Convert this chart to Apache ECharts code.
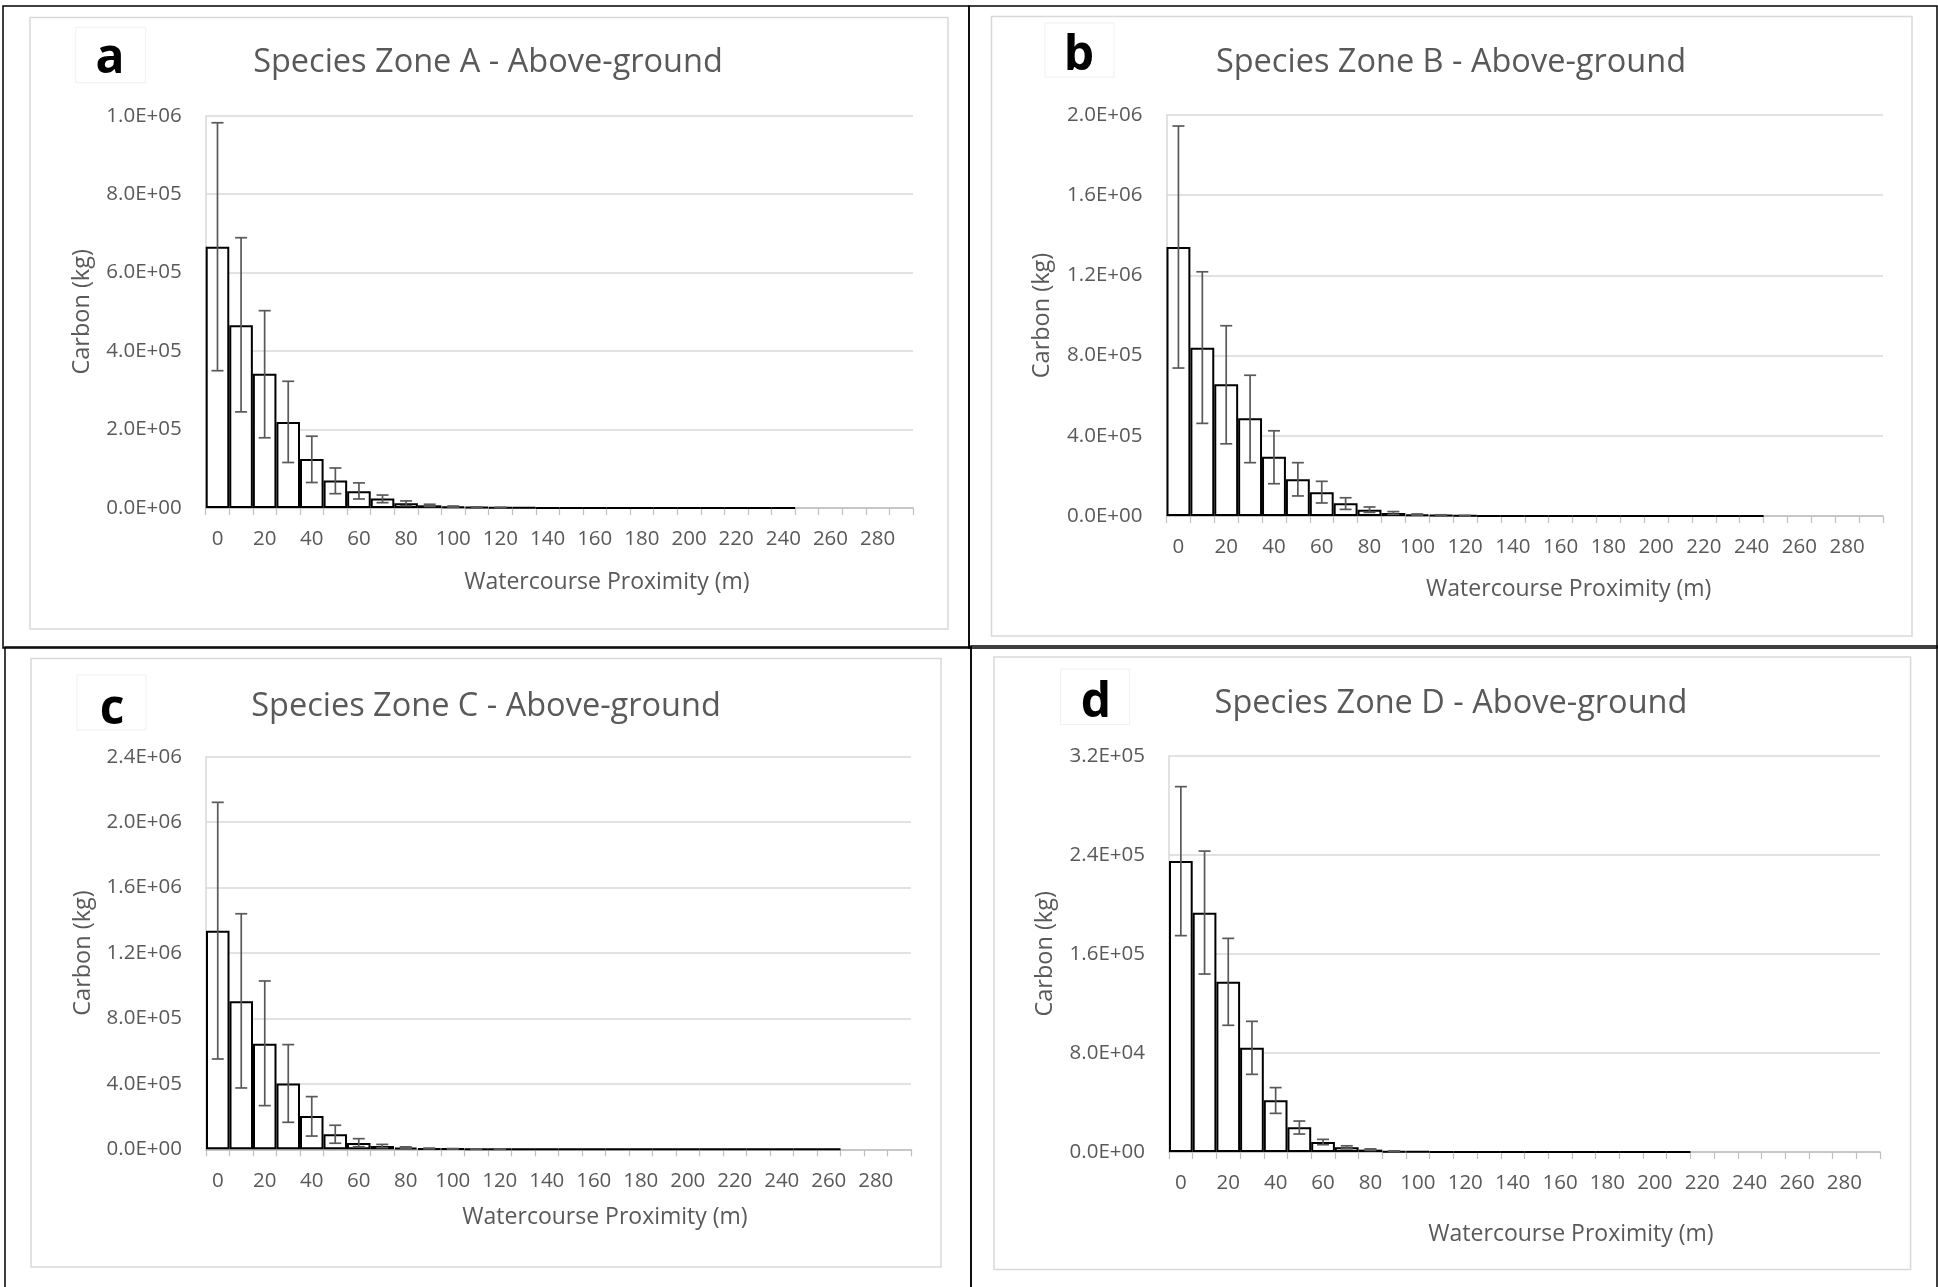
<!DOCTYPE html>
<html>
<head>
<meta charset="utf-8">
<script src="https://cdn.jsdelivr.net/npm/echarts@6/dist/echarts.min.js"></script>
<style>
html,body{margin:0;padding:0;background:#ffffff;}
#chart{width:1938px;height:1287px;}
</style>
</head>
<body>
<div id="chart"></div>
<script>
// ---------------- DATA ----------------
const categories = ['0','10','20','30','40','50','60','70','80','90','100','110','120','130','140','150','160','170','180','190','200','210','220','230','240','250','260','270','280','290'];

const panelLetters = ['a', 'b', 'c', 'd'];
const panelTitles = ['Species Zone A - Above-ground', 'Species Zone B - Above-ground', 'Species Zone C - Above-ground', 'Species Zone D - Above-ground'];
const xAxisTitle = 'Watercourse Proximity (m)';
const yAxisTitle = 'Carbon (kg)';

const yMax = [1.0e6, 2.0e6, 2.4e6, 3.2e5];
const yInterval = [2.0e5, 4.0e5, 4.0e5, 8.0e4];

const zoneA = [666000, 466000, 342000, 219000, 125000, 70000, 43000, 24000, 12000, 6800, 3500, 2000, 1200, 700, 400, 250, 150, 100, 60, 40, 30, 20, 10, 10, 5, null, null, null, null, null];
const zoneAUpper = [982000, 689000, 503000, 323000, 183000, 102000, 64000, 33000, 18000, 9500, 5000, 3000, 1800];
const zoneALower = [350000, 245000, 179000, 116000, 65000, 36500, 23000, 13600, 6000, 4000, 2000, 1000, 600];

const zoneB = [1342000, 839000, 657000, 487000, 296000, 183000, 118000, 63000, 31600, 15000, 7000, 4000, 2000, 1200, 700, 400, 250, 150, 100, 60, 40, 30, 20, 10, 5, null, null, null, null, null];
const zoneBUpper = [1945000, 1218000, 949000, 702000, 425000, 266000, 173000, 91000, 45000, 22000, 10000, 6000, 3000];
const zoneBLower = [738000, 462000, 360000, 266000, 161000, 100000, 65000, 33000, 18000, 8000, 4000, 2000, 1000];

const zoneC = [1336000, 905000, 646000, 403000, 204000, 92000, 38500, 20000, 10000, 5000, 3000, 1800, 1000, 600, 400, 250, 150, 100, 60, 40, 30, 20, 15, 10, 8, 5, 3, null, null, null];
const zoneCUpper = [2121000, 1440000, 1029000, 640000, 322000, 147000, 65000, 30000, 15000, 7500, 4500, 2700, 1500];
const zoneCLower = [552000, 375000, 267000, 165000, 81000, 37000, 16000, 10000, 5000, 2500, 1500, 900, 500];

const zoneD = [235000, 193200, 137500, 84200, 41700, 19900, 8100, 3800, 1900, 600, 300, 150, 80, 50, 30, 20, 10, 8, 5, 3, 2, 1, null, null, null, null, null, null, null, null];
const zoneDUpper = [295000, 243000, 172500, 105500, 52000, 25000, 10200, 5000, 2500, 900];
const zoneDLower = [174700, 143700, 102300, 62700, 31200, 14500, 5900, 2600, 1300, 300];

// ---------------- LAYOUT (positions & styles) ----------------
const FONT = '"Open Sans", "Noto Sans", sans-serif';
const GREY_TEXT = '#595959';
const layout = [
  { grid: {left: 205.7, top: 115.7, width: 707.3, height: 392.3},
    title: [488, 63], letter: [110, 59], letterBox: [75.7, 27.3, 70, 55.4],
    xName: {gap: 74, pad: 95}, yName: {gap: 123.7},
    outer: [3, 6, 966, 642], inner: [30, 17.5, 918, 611.5] },
  { grid: {left: 1166.5, top: 115, width: 716.5, height: 401},
    title: [1451, 62.5], letter: [1079, 56], letterBox: [1045, 23, 69, 54],
    xName: {gap: 73.5, pad: 88}, yName: {gap: 124.5},
    outer: [969, 6, 968, 642], inner: [991.5, 16.6, 920.5, 619.4] },
  { grid: {left: 206, top: 756.7, width: 705, height: 392.6},
    title: [486, 706.5], letter: [112, 710.5], letterBox: [77, 675, 69, 55],
    xName: {gap: 68, pad: 93}, yName: {gap: 123},
    outer: [5, 647, 966, 642], inner: [31, 658.5, 910, 608.5] },
  { grid: {left: 1169, top: 755.7, width: 711, height: 396.3},
    title: [1451, 703.5], letter: [1096, 703.5], letterBox: [1060.6, 669, 69, 55.5],
    xName: {gap: 82, pad: 93}, yName: {gap: 124},
    outer: [971, 646, 966, 642], inner: [994, 657, 916.6, 612.6] }
];

const means = [zoneA, zoneB, zoneC, zoneD];
const uppers = [zoneAUpper, zoneBUpper, zoneCUpper, zoneDUpper];
const lowers = [zoneALower, zoneBLower, zoneCLower, zoneDLower];

function sci(v) {
  const s = Number(v).toExponential(1).toUpperCase();
  return s.replace(/E([+-])(\d)$/, 'E$10$2');
}

function renderErr(params, api) {
  const idx = api.value(0);
  const lo = api.coord([idx, api.value(1)]);
  const hi = api.coord([idx, api.value(2)]);
  const x = lo[0];
  const hw = 6;
  const st = () => ({ stroke: '#595959', lineWidth: 1.7 });
  return {
    type: 'group',
    children: [
      { type: 'line', shape: { x1: x, y1: lo[1], x2: x, y2: hi[1] }, style: st() },
      { type: 'line', shape: { x1: x - hw, y1: hi[1], x2: x + hw, y2: hi[1] }, style: st() },
      { type: 'line', shape: { x1: x - hw, y1: lo[1], x2: x + hw, y2: lo[1] }, style: st() }
    ]
  };
}

const grids = [], xAxes = [], yAxes = [], series = [], titles = [], graphics = [];

for (let i = 0; i < 4; i++) {
  const L = layout[i];
  grids.push(Object.assign({ outerBoundsMode: 'none', containLabel: false }, L.grid));

  titles.push({
    text: panelTitles[i], left: L.title[0], top: L.title[1],
    textAlign: 'center', textVerticalAlign: 'middle', padding: 0,
    textStyle: { fontFamily: FONT, fontSize: 32.5, fontWeight: 'normal', color: GREY_TEXT }
  });

  xAxes.push({
    type: 'category', gridIndex: i, data: categories, boundaryGap: true,
    name: xAxisTitle, nameLocation: 'middle', nameGap: L.xName.gap,
    nameTextStyle: { fontFamily: FONT, fontSize: 23, color: GREY_TEXT, align: 'center', verticalAlign: 'middle', padding: [0, 0, 0, L.xName.pad] },
    axisLine: { show: true, lineStyle: { color: '#bfbfbf', width: 1.5 } },
    axisTick: { show: true, interval: 0, length: 7, lineStyle: { color: '#bfbfbf', width: 1.2 } },
    axisLabel: { interval: 1, margin: 21, fontFamily: FONT, fontSize: 20.5, color: GREY_TEXT },
    splitLine: { show: false }
  });

  yAxes.push({
    type: 'value', gridIndex: i, min: 0, max: yMax[i], interval: yInterval[i],
    name: yAxisTitle, nameLocation: 'middle', nameGap: L.yName.gap, nameRotate: 90,
    nameTextStyle: { fontFamily: FONT, fontSize: 23.5, color: GREY_TEXT, align: 'center', verticalAlign: 'middle' },
    axisLine: { show: true, lineStyle: { color: '#d9d9d9', width: 1.5 } },
    axisTick: { show: false },
    axisLabel: { margin: 24, fontFamily: FONT, fontSize: 20.5, color: GREY_TEXT, formatter: sci },
    splitLine: { show: true, lineStyle: { color: '#d9d9d9', width: 1.5 } }
  });

  series.push({
    type: 'bar', xAxisIndex: i, yAxisIndex: i, data: means[i],
    barCategoryGap: '0%', barGap: '0%',
    itemStyle: { color: '#ffffff', borderColor: '#000000', borderWidth: 2 },
    z: 2, silent: true
  });

  const errData = [];
  for (let k = 0; k < uppers[i].length; k++) {
    errData.push([k, lowers[i][k], uppers[i][k]]);
  }
  series.push({
    type: 'custom', xAxisIndex: i, yAxisIndex: i, data: errData,
    encode: { x: 0, y: [1, 2] }, renderItem: renderErr, z: 3, silent: true
  });

  // panel frames
  graphics.push({
    type: 'rect', shape: { x: L.outer[0], y: L.outer[1], width: L.outer[2], height: L.outer[3] },
    style: { fill: null, stroke: '#000000', lineWidth: 1.5 }, z: 0, silent: true
  });
  graphics.push({
    type: 'rect', shape: { x: L.inner[0], y: L.inner[1], width: L.inner[2], height: L.inner[3] },
    style: { fill: null, stroke: '#d9d9d9', lineWidth: 1.5 }, z: 0, silent: true
  });
  graphics.push({
    type: 'rect', shape: { x: L.letterBox[0], y: L.letterBox[1], width: L.letterBox[2], height: L.letterBox[3] },
    style: { fill: '#ffffff', stroke: '#f0f0f0', lineWidth: 1 }, z: 1, silent: true
  });
  graphics.push({
    type: 'text', x: L.letter[0], y: L.letter[1], z: 2, silent: true,
    style: { text: panelLetters[i], fontFamily: '"Open Sans", "Liberation Sans", sans-serif', fontWeight: 'bold', fontSize: 48, fill: '#000000', align: 'center', verticalAlign: 'middle' }
  });
}

const chart = echarts.init(document.getElementById('chart'), null, { renderer: 'canvas' });
chart.setOption({
  animation: false,
  backgroundColor: '#ffffff',
  title: titles,
  grid: grids,
  xAxis: xAxes,
  yAxis: yAxes,
  series: series,
  graphic: { elements: graphics }
});
</script>
</body>
</html>
